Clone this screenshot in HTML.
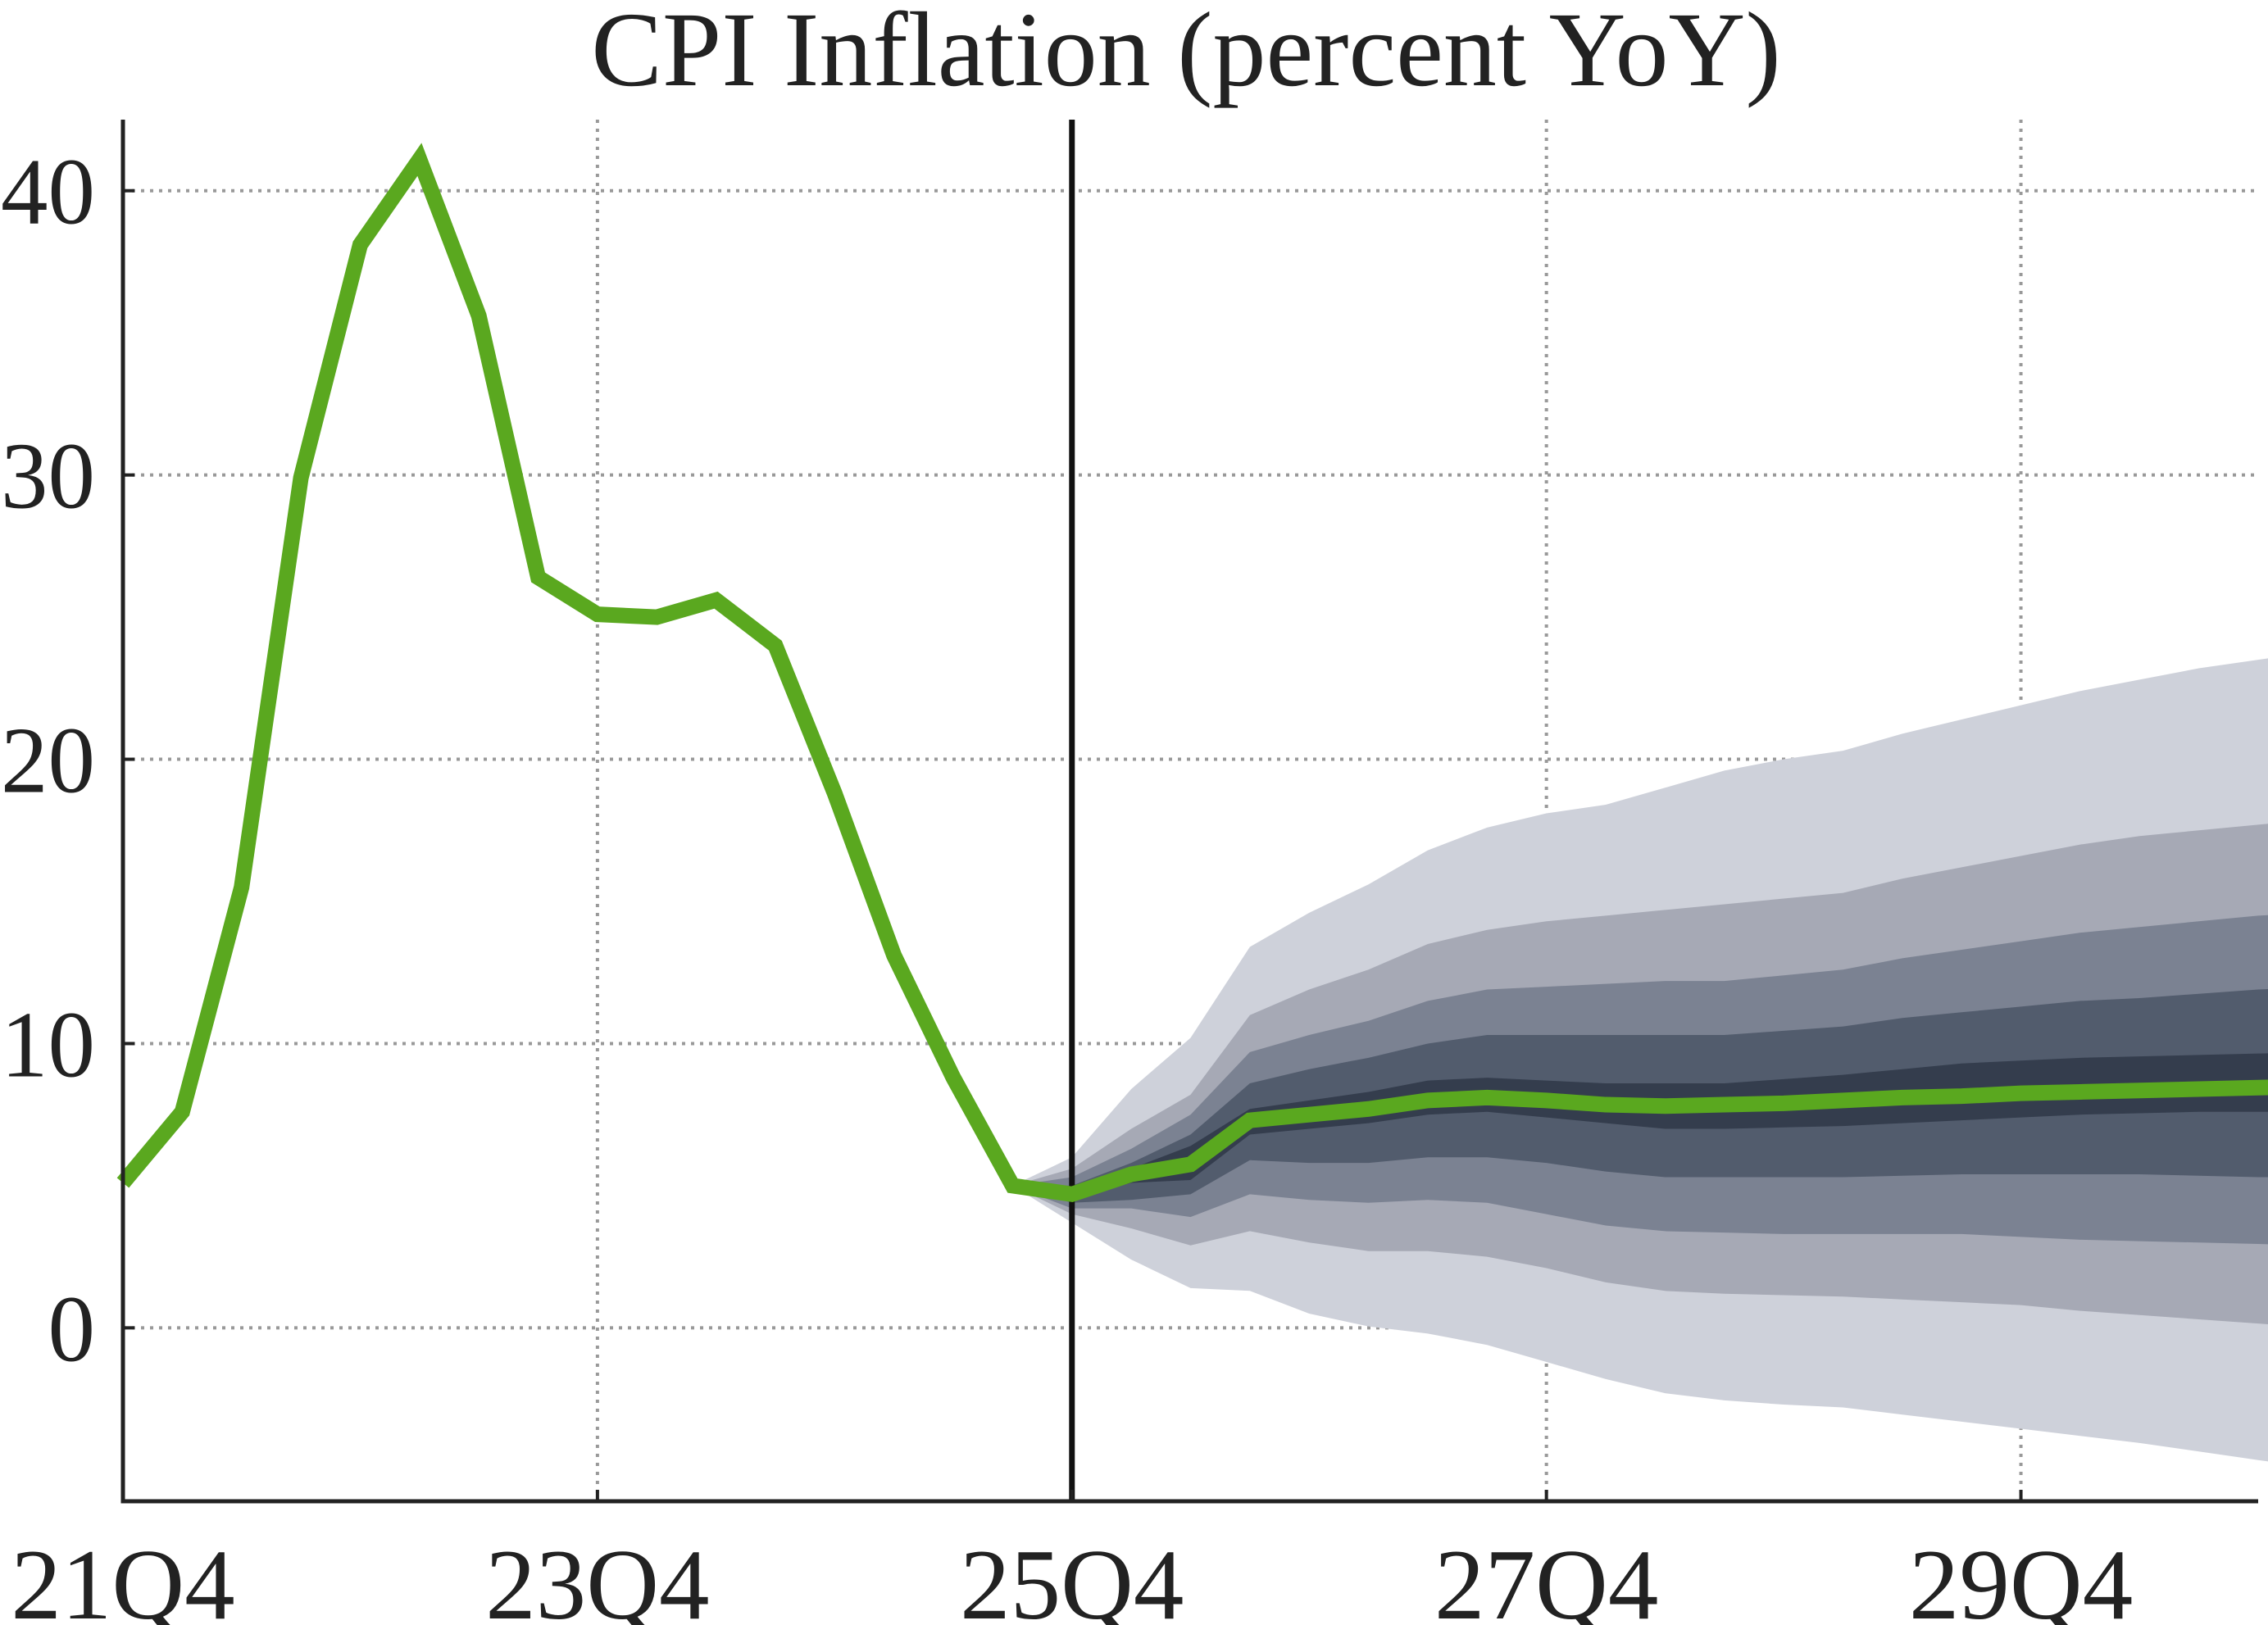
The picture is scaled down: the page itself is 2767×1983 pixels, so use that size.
<!DOCTYPE html>
<html><head><meta charset="utf-8"><style>
html,body{margin:0;padding:0;background:#fff}
svg{display:block}
text{font-family:"Liberation Serif",serif;fill:#222}
</style></head><body>
<svg id="chart" width="2767" height="1983" viewBox="0 0 2767 1983">
<text x="1447" y="104" font-size="130" text-anchor="middle">CPI Inflation (percent YoY)</text>
<g id="grid"></g><g id="bands"></g><g id="lines"></g><g id="axes"></g>
</svg>
<script>
const xTickLabels=["21Q4","23Q4","25Q4","27Q4","29Q4"];
const xTickIdx=[0,8,16,24,32];
const yTicks=[0,10,20,30,40];
const history=[5.1,7.6,15.5,29.9,38.1,41.1,35.6,26.4,25.1,25.0,25.6,24.0,18.8,13.1,8.8,5.0];
const median=[5.0,4.7,5.4,5.75,7.3,7.5,7.7,8.0,8.1,8.0,7.85,7.8,7.85,7.9,8.0,8.1,8.15,8.25,8.3,8.35,8.4,8.45,8.5,8.55];
const band1Up=[5,6.0,8.4,10.2,13.4,14.6,15.6,16.8,17.6,18.1,18.4,19.0,19.6,20.0,20.3,20.9,21.4,21.9,22.4,22.8,23.2,23.5,23.8];
const band1Lo=[5,3.7,2.4,1.4,1.3,0.5,0.05,-0.2,-0.6,-1.2,-1.8,-2.3,-2.55,-2.7,-2.8,-3.05,-3.3,-3.55,-3.8,-4.05,-4.35,-4.65,-4.95];
const band2Up=[5,5.6,7.0,8.2,11.0,11.9,12.6,13.5,14.0,14.3,14.5,14.7,14.9,15.1,15.3,15.8,16.2,16.6,17.0,17.3,17.5,17.7,17.9];
const band2Lo=[5,4.0,3.5,2.9,3.4,3.0,2.7,2.7,2.5,2.1,1.6,1.3,1.2,1.15,1.1,1.0,0.9,0.8,0.6,0.45,0.3,0.15,0.0];
const band3Up=[5,5.3,6.3,7.5,9.7,10.3,10.8,11.5,11.9,12.0,12.1,12.2,12.2,12.4,12.6,13.0,13.3,13.6,13.9,14.1,14.3,14.5,14.6];
const band3Lo=[5,4.2,4.2,3.9,4.7,4.5,4.4,4.5,4.4,4.0,3.6,3.4,3.35,3.3,3.3,3.3,3.3,3.2,3.1,3.05,3.0,2.95,2.9];
const band4Up=[5,5.0,5.8,6.8,8.6,9.1,9.5,10.0,10.3,10.3,10.3,10.3,10.3,10.45,10.6,10.9,11.1,11.3,11.5,11.6,11.75,11.9,12.0];
const band4Lo=[5,4.4,4.5,4.7,5.9,5.8,5.8,6.0,6.0,5.8,5.5,5.3,5.3,5.3,5.3,5.35,5.4,5.4,5.4,5.4,5.35,5.3,5.3];
const band5Up=[5,4.85,5.6,6.4,7.7,8.0,8.3,8.7,8.8,8.7,8.6,8.6,8.6,8.75,8.9,9.1,9.3,9.4,9.5,9.55,9.6,9.65,9.7];
const band5Lo=[5,4.55,5.1,5.2,6.8,7.0,7.2,7.5,7.6,7.4,7.2,7.0,7.0,7.05,7.1,7.2,7.3,7.4,7.5,7.55,7.6,7.6,7.6];
const bandStart=15, medianStart=15;

const L=150,R=2755,T=146,B=1832,nQ=36,yMin=-6.1,yMax=42.5;
const X=i=>L+(R-L)*i/nQ;
const Y=v=>B-(B-T)*(v-yMin)/(yMax-yMin);
const NS="http://www.w3.org/2000/svg";
function mk(tag,parent,attrs){const e=document.createElementNS(NS,tag);for(const k in attrs)e.setAttribute(k,attrs[k]);document.getElementById(parent).appendChild(e);return e;}

yTicks.forEach(v=>{
  const l=mk('line','grid',{x1:L,x2:R,y1:Y(v),y2:Y(v),stroke:'#999',"stroke-width":4,"stroke-dasharray":"4 7"});
  
  
  const t=mk('text','axes',{x:116,y:Y(v)+40,"font-size":115,"text-anchor":"end"});
  t.textContent=v;
  
  
  const tk=mk('line','axes',{x1:L,x2:L+14,y1:Y(v),y2:Y(v),stroke:'#222',"stroke-width":4});
  
  
});
xTickIdx.forEach((q,k)=>{
  if(q>0){const l=mk('line','grid',{x1:X(q),x2:X(q),y1:T,y2:B,stroke:'#999',"stroke-width":4,"stroke-dasharray":"4 7"});
  
  }
  const t=mk('text','axes',{x:X(q),y:1975,"font-size":123,"text-anchor":"middle"});
  t.textContent=xTickLabels[k];
  
  
  const tk=mk('line','axes',{x1:X(q),x2:X(q),y1:B,y2:B-14,stroke:'#222',"stroke-width":4});
  
  
});
const bands=[[band1Up,band1Lo,'#ced1da','band-90'],[band2Up,band2Lo,'#a6a9b5','band-70'],[band3Up,band3Lo,'#7b8292','band-50'],[band4Up,band4Lo,'#525c6d','band-30'],[band5Up,band5Lo,'#343d4d','band-10']];
bands.forEach(b=>{
  let d='';
  b[0].forEach((v,i)=>{d+=(i?'L':'M')+X(bandStart+i)+','+Y(v);});
  for(let i=b[1].length-1;i>=0;i--)d+='L'+X(bandStart+i)+','+Y(b[1][i]);
  const p=mk('path','bands',{d:d+'Z',fill:b[2]});
  
  
});
const vl=mk('line','lines',{x1:X(16),x2:X(16),y1:T,y2:B,stroke:'#111',"stroke-width":7});


let pts=history.map((v,i)=>X(i)+','+Y(v));
median.forEach((v,i)=>{if(i>0)pts.push(X(medianStart+i)+','+Y(v));});
const pl=mk('polyline','lines',{points:pts.join(' '),fill:'none',stroke:'#5aa81f',"stroke-width":19,"stroke-linejoin":"miter","stroke-miterlimit":3});


const ax=mk('path','axes',{d:`M${L},${T}L${L},${B}L${R},${B}`,fill:'none',stroke:'#222',"stroke-width":5});


</script>
</body></html>
